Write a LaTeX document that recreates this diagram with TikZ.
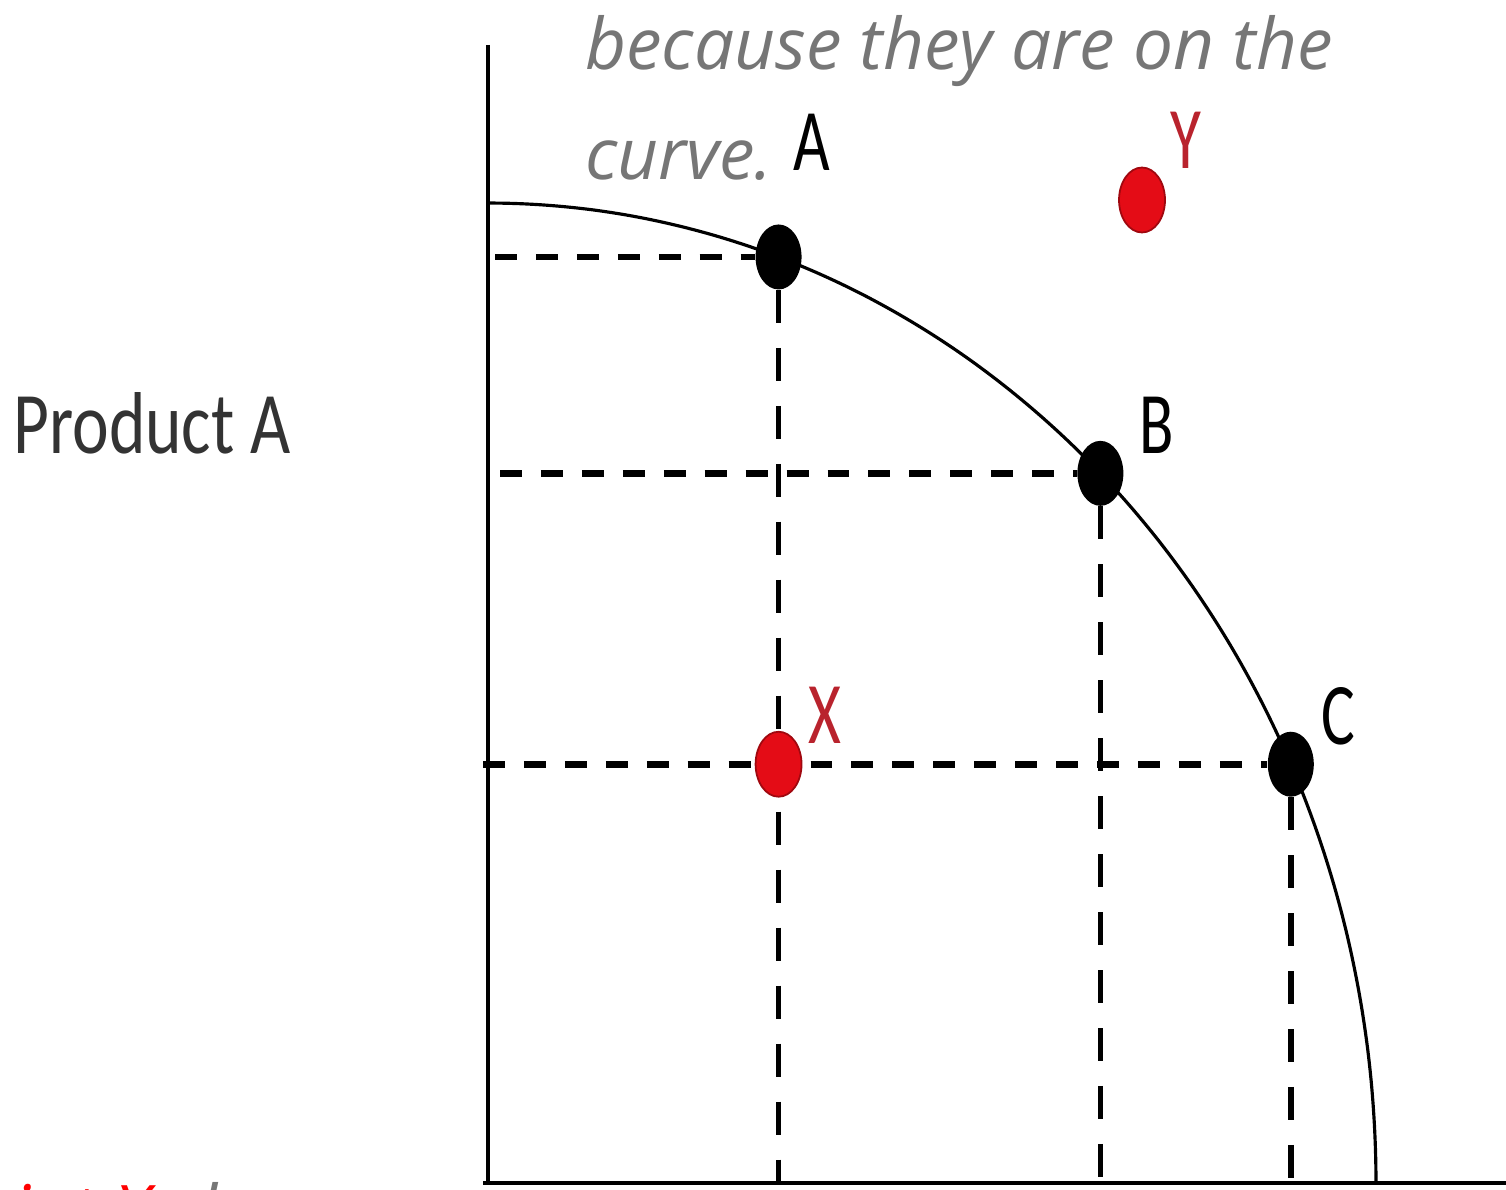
\documentclass[tikz,border=0pt]{standalone}
\usepackage{fontspec}
\usetikzlibrary{calc,positioning,shapes.geometric}
\newfontfamily\labelfont{Carlito}
\newfontfamily\handfont{Open Sans}
\definecolor{handgray}{RGB}{118,118,118}
\definecolor{dotred}{RGB}{228,12,22}
\definecolor{labelred}{RGB}{185,35,45}

\begin{document}
\begin{tikzpicture}[x=0.02cm, y=-0.02cm,
		ppfdot/.style={ellipse, fill=black, inner sep=0pt, minimum width=0.92cm, minimum height=1.3cm},
		reddot/.style={ppfdot, fill=dotred, draw=dotred!70!black, line width=1pt},
		ptlabel/.style={font=\labelfont\fontsize{50}{50}\selectfont, inner sep=0pt},
		hdash/.style={line width=3.9pt, dash pattern=on 12.5pt off 10.8pt},
		vdash/.style={line width=3.1pt, dash pattern=on 18.8pt off 14.2pt},
		hand/.style={font=\handfont\itshape\fontsize{40.5}{40.5}\selectfont, text=handgray, inner sep=0pt}]

		\clip (0,0) rectangle (1506,1189);

		\def\ox{488} \def\oy{1183} % origin
		\def\ra{888} \def\rb{980}  % half axes of the frontier

		\coordinate (O) at (\ox,\oy);
		\coordinate (ytop) at (\ox,45);
		\coordinate (xend) at (1506,\oy);
		\coordinate (xstart) at (483,\oy);

		% where the horizontal dashes begin
		\coordinate (lA) at (495,0);
		\coordinate (lB) at (500,0);
		\coordinate (lC) at (483,0);

		% frontier
		\draw[line width=1.8pt] plot[domain=0:90, samples=80, smooth]
			({\ox+\ra*cos(\x)},{\oy-\rb*sin(\x)});

		% Axes
		\draw[line width=2.4pt] (ytop) -- (O);
		\draw[line width=2.8pt] (xstart) -- (xend);

		% points on the curve
		\foreach \name/\t in {A/70.9, B/46.4, C/25.3}
			\node[ppfdot] (dot\name) at ({\ox+\ra*cos(\t)},{\oy-\rb*sin(\t)}) {};

		% dashed guides to the axes
		\foreach \name in {A,B,C}{
			\draw[hdash] (dot\name.center -| l\name) -- (dot\name);
			\draw[vdash] (dot\name) -- (dot\name.center |- O);
		}

		% inside and outside the frontier
		\node[reddot] (dotX) at (dotA |- dotC) {};
		\node[reddot] (dotY) at (1142,200) {};

		% labels
		\node[ptlabel] (labA) at (812,142) {\scalebox{0.72}[1]{A}};
		\node[ptlabel] (labB) at (1157,425) {\scalebox{0.72}[1]{B}};
		\node[ptlabel] (labC) at (1338,716) {\scalebox{0.72}[1]{C}};
		\node[ptlabel, text=labelred] (labX) at (825,715) {\scalebox{0.72}[1]{X}};
		\node[ptlabel, text=labelred] (labY) at (1186,140) {\scalebox{0.72}[1]{Y}};
		\node[ptlabel, text=black!80] (prodA) at (152,423) {\scalebox{0.79}[1]{Product A}};

		% notes
		\node[hand, anchor=base west] (note1) at (585,70) {because they are on the};
		\node[hand, anchor=base west] (note2) at (585,180) {curve.};
		\node[hand, anchor=base west] (note3) at (12,1236) {\textcolor{red}{int X} shows};

	\end{tikzpicture}
\end{document}
